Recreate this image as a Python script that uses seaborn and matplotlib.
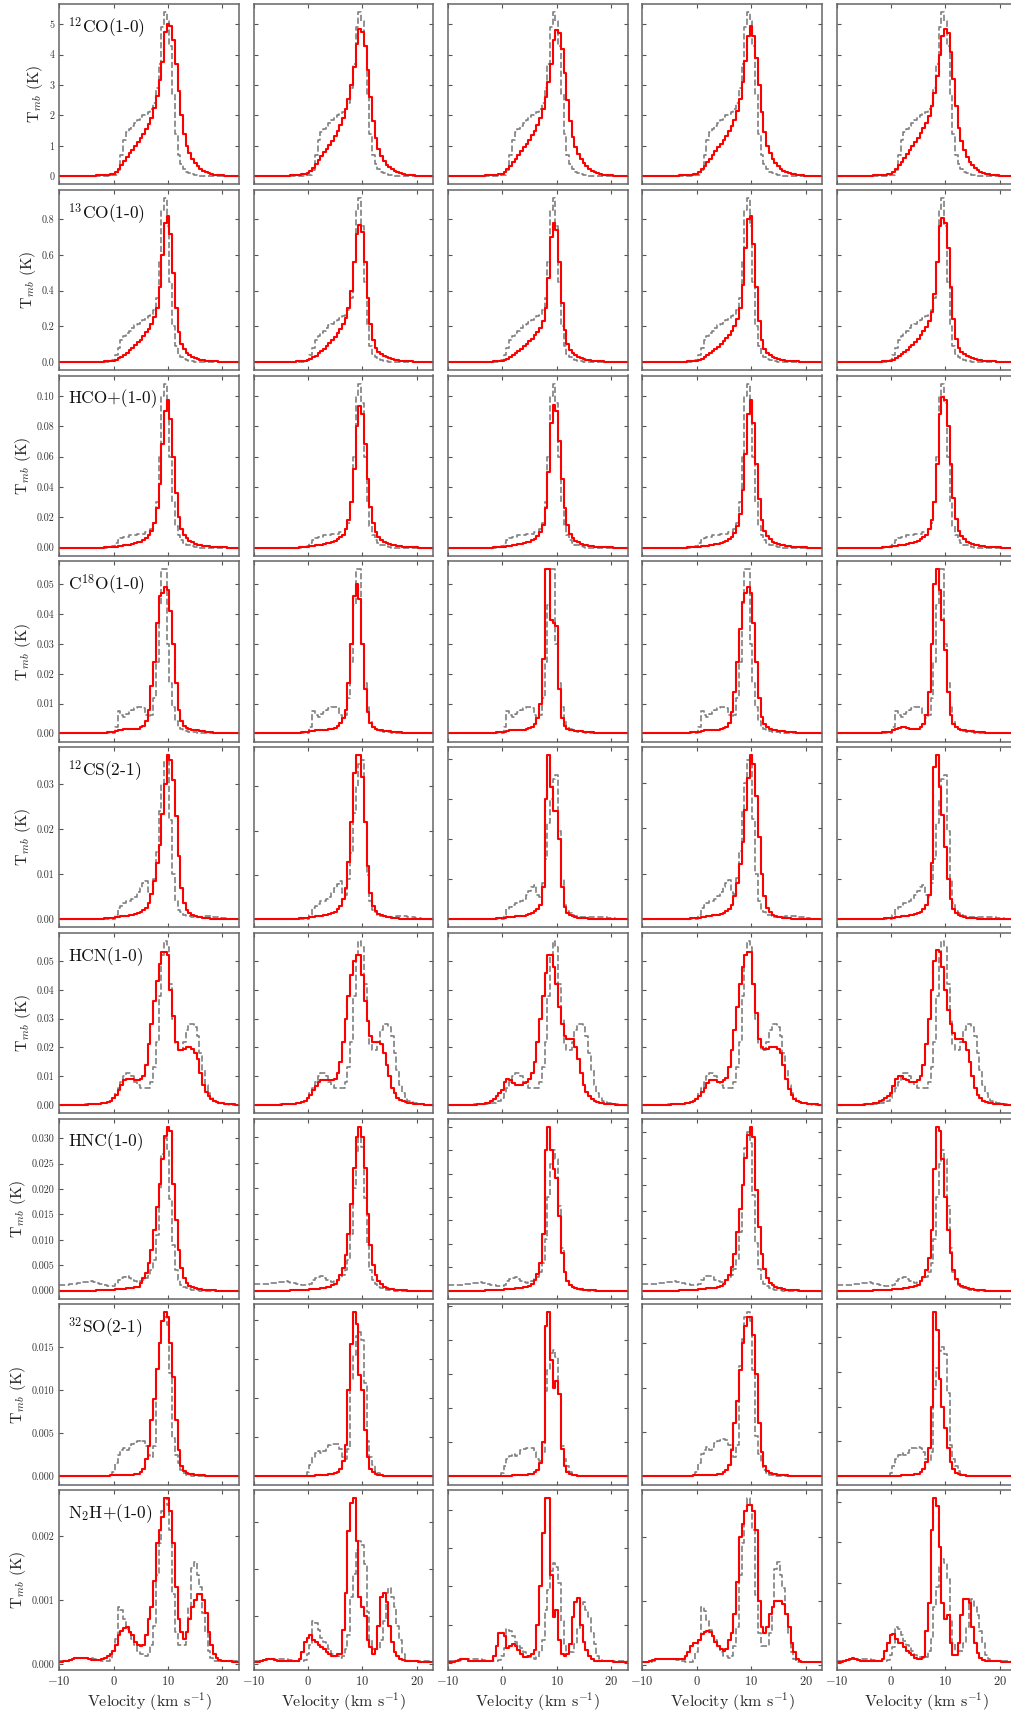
import numpy as np
import matplotlib
matplotlib.use("Agg")
import matplotlib.pyplot as plt
from matplotlib.ticker import MultipleLocator, FormatStrFormatter, FixedLocator
import seaborn as sns

# ---------------- data ----------------
# velocity channels (km/s), 0.5 km/s wide
velocity = np.arange(-10.0, 23.01, 0.5)

# Row 1: 12CO(1-0), values in K
co12_obs = [0,0,0,0,0,0,0,0,0,0,0,0,0,0,0,0,0,0,0,0,
            0.02,0.05,0.2,0.7,1.2,1.45,1.55,1.65,1.75,1.85,1.95,2.0,2.05,2.1,2.2,2.4,2.9,3.7,4.9,5.4,
            5.1,4.3,2.7,1.4,0.7,0.4,0.25,0.15,0.1,0.06,0.04,0.02,0.01,0,0,0,0,0,0,0,
            0,0,0,0,0,0,0]
co12_m1 = [0,0,0,0,0,0,0,0,0,0,0,0,0.01,0.01,0.02,0.02,0.03,0.04,0.05,0.06,
           0.08,0.15,0.25,0.38,0.5,0.62,0.75,0.87,1.0,1.12,1.25,1.4,1.55,1.72,1.92,2.25,2.65,3.15,3.75,4.75,
           5.0,4.95,4.5,3.7,2.8,2.0,1.4,1.0,0.75,0.55,0.42,0.32,0.24,0.18,0.13,0.1,0.07,0.05,0.04,0.03,
           0.02,0.01,0.01,0.01,0,0,0]
co12_m2 = [0,0,0,0,0,0,0,0,0,0,0,0,0.01,0.01,0.02,0.03,0.04,0.05,0.06,0.08,
           0.1,0.17,0.27,0.4,0.52,0.65,0.78,0.9,1.03,1.17,1.32,1.5,1.7,1.92,2.2,2.55,3.0,3.6,4.35,4.85,
           4.75,4.3,3.5,2.6,1.8,1.25,0.9,0.65,0.5,0.38,0.3,0.23,0.17,0.13,0.1,0.07,0.05,0.04,0.03,0.02,
           0.01,0.01,0,0,0,0,0]
co12_m3 = [0,0,0,0,0,0,0,0,0,0,0,0,0.01,0.01,0.02,0.02,0.03,0.04,0.05,0.06,
           0.08,0.14,0.22,0.33,0.45,0.57,0.7,0.82,0.95,1.07,1.2,1.35,1.5,1.68,1.9,2.2,2.6,3.1,3.7,4.5,
           4.8,4.7,4.2,3.4,2.5,1.8,1.3,0.95,0.72,0.55,0.42,0.32,0.24,0.18,0.13,0.1,0.07,0.05,0.04,0.03,
           0.02,0.01,0.01,0,0,0,0]
co12_m4 = [0,0,0,0,0,0,0,0,0,0,0,0,0.01,0.01,0.02,0.02,0.03,0.04,0.05,0.06,
           0.07,0.13,0.22,0.33,0.45,0.57,0.7,0.82,0.95,1.07,1.2,1.33,1.48,1.65,1.85,2.15,2.55,3.1,3.8,4.6,
           4.95,4.6,3.9,3.0,2.1,1.45,1.0,0.75,0.55,0.42,0.32,0.24,0.18,0.14,0.1,0.08,0.06,0.04,0.03,0.02,
           0.01,0.01,0,0,0,0,0]
co12_m5 = [0,0,0,0,0,0,0,0,0,0,0,0,0.01,0.01,0.02,0.02,0.03,0.04,0.05,0.06,
           0.08,0.14,0.23,0.35,0.47,0.6,0.73,0.86,1.0,1.13,1.27,1.42,1.58,1.76,1.98,2.3,2.75,3.3,4.0,4.6,
           4.85,4.7,4.1,3.2,2.3,1.6,1.15,0.85,0.62,0.47,0.36,0.27,0.2,0.15,0.11,0.08,0.06,0.04,0.03,0.02,
           0.01,0.01,0,0,0,0,0]

# Row 2: 13CO(1-0), values in mK
co13_obs_mK = [0,0,0,0,0,0,0,0,0,0,0,0,0,0,0,0,0,0,0,0,
               10,40,80,120,145,160,175,190,205,215,225,235,245,255,265,290,360,560,850,920,
               760,450,200,90,45,25,15,10,5,3,0,0,0,0,0,0,0,0,0,0,
               0,0,0,0,0,0,0]
co13_m1_mK = [0,0,0,0,0,0,0,0,0,0,0,0,0,0,0,0,1,2,3,4,
              5,12,20,30,40,52,65,80,95,110,125,145,165,185,210,250,300,420,600,780,
              820,720,500,300,170,100,70,50,38,30,22,17,12,9,7,5,4,3,2,1,
              1,0,0,0,0,0,0]
co13_m2_mK = [0,0,0,0,0,0,0,0,0,0,0,0,0,0,0,1,2,3,5,7,
              9,16,25,35,47,60,74,90,106,123,142,163,186,212,245,300,400,560,720,770,
              730,560,360,210,125,80,58,43,33,26,20,15,11,8,6,4,3,2,2,1,
              1,0,0,0,0,0,0]
co13_m3_mK = [0,0,0,0,0,0,0,0,0,0,0,0,0,0,0,0,1,2,3,4,
              5,11,18,27,37,48,60,73,87,100,115,130,148,168,192,230,300,470,700,780,
              740,560,330,180,100,65,48,36,28,22,17,13,10,7,5,4,3,2,1,1,
              0,0,0,0,0,0,0]
co13_m4_mK = [0,0,0,0,0,0,0,0,0,0,0,0,0,0,0,0,1,2,3,4,
              4,10,17,26,36,47,59,72,86,100,115,132,150,172,200,240,300,430,640,800,
              820,660,420,230,120,70,48,36,28,22,17,13,10,7,5,4,3,2,1,1,
              0,0,0,0,0,0,0]
co13_m5_mK = [0,0,0,0,0,0,0,0,0,0,0,0,0,0,0,0,1,2,3,5,
              6,13,21,31,42,54,67,82,97,113,130,150,172,198,230,280,380,560,760,810,
              780,640,420,240,130,80,58,44,34,27,21,16,12,9,7,5,4,3,2,1,
              1,0,0,0,0,0,0]

# Row 3: HCO+(1-0), mK
hco_obs_mK = [0,0,0,0,0,0,0,0,0,0,0,0,0,0,0,0,0,0,0.3,0.6,
              1,3,5,6,7,7,8,8,8,9,9,9,10,10,12,16,30,60,100,108,
              95,60,30,14,8,5,3,2,1.5,1,0.5,0,0,0,0,0,0,0,0,0,
              0,0,0,0,0,0,0]
hco_m1_mK = [0,0,0,0,0,0,0,0,0,0,0,0,0,0,0,0,0,0.2,0.3,0.4,
             0.5,0.7,1,1.2,1.5,1.8,2,2.5,3,3.5,4,5,6,8,11,16,26,42,68,90,
             97,85,60,36,20,12,8,6,4.5,3.5,2.5,2,1.5,1.2,1,0.8,0.5,0.4,0.3,0.2,
             0.1,0.1,0,0,0,0,0]
hco_m2_mK = [0,0,0,0,0,0,0,0,0,0,0,0,0,0,0,0,0,0.2,0.3,0.4,
             0.6,0.8,1.1,1.4,1.7,2,2.4,2.8,3.3,3.9,4.6,5.5,6.8,8.5,12,18,30,52,80,93,
             88,68,45,27,16,10,7,5,4,3,2.3,1.8,1.4,1.1,0.8,0.6,0.4,0.3,0.2,0.1,
             0.1,0,0,0,0,0,0]
hco_m3_mK = [0,0,0,0,0,0,0,0,0,0,0,0,0,0,0,0,0,0.2,0.3,0.4,
             0.5,0.7,0.9,1.2,1.5,1.8,2.1,2.5,3,3.5,4,4.8,5.8,7.5,10,15,26,50,82,94,
             90,70,45,26,15,9,6,4.5,3.5,2.7,2,1.5,1.2,0.9,0.7,0.5,0.4,0.3,0.2,0.1,
             0.1,0,0,0,0,0,0]
hco_m4_mK = [0,0,0,0,0,0,0,0,0,0,0,0,0,0,0,0,0,0.2,0.3,0.3,
             0.4,0.6,0.8,1,1.3,1.6,1.9,2.3,2.7,3.2,3.7,4.5,5.5,7,9.5,14,22,38,62,88,
             97,82,55,32,18,11,7.5,5.5,4,3,2.3,1.8,1.4,1,0.8,0.6,0.4,0.3,0.2,0.1,
             0.1,0,0,0,0,0,0]
hco_m5_mK = [0,0,0,0,0,0,0,0,0,0,0,0,0,0,0,0,0,0.2,0.3,0.4,
             0.6,0.8,1.1,1.4,1.7,2,2.4,2.8,3.3,3.9,4.6,5.5,6.8,8.5,12,18,30,55,88,99,
             97,80,55,33,19,11,7.5,5.5,4,3,2.3,1.8,1.4,1,0.8,0.6,0.4,0.3,0.2,0.1,
             0.1,0,0,0,0,0,0]

# Row 4: C18O(1-0), mK
c18o_obs_mK = [0,0,0,0,0,0,0,0,0,0,0,0,0,0,0,0,0,0,0,0,
               0,2,7.5,6,5.5,6.5,7,8,8.5,9,9,8.5,6,5,6,12,24,43,55,55,
               30,17,9,4,2,1.5,1,0.8,0.5,0.4,0.3,0.2,0.1,0,0,0,0,0,0,0,
               0,0,0,0,0,0,0]
c18o_m1_mK = [0,0,0,0,0,0,0,0,0,0,0,0,0,0,0.1,0.15,0.2,0.25,0.3,0.4,
              0.5,0.7,1,1.2,1.3,1.3,1.3,1.3,1.4,1.6,2,2.5,4,8,16,24,37,46,47,49,
              48,41,30,17,8,4,2.5,1.8,1.3,1.1,1,1,0.9,0.8,0.6,0.5,0.3,0.2,0.1,0.05,
              0,0,0,0,0,0,0]
c18o_m2_mK = [0,0,0,0,0,0,0,0,0,0,0,0,0,0,0.1,0.15,0.2,0.25,0.3,0.4,
              0.5,0.7,0.9,1.1,1.2,1.2,1.2,1.2,1.3,1.5,1.9,2.5,3.5,5,8,17,30,46,50,45,
              30,15,7,3.5,2,1.5,1.2,1,0.9,0.8,0.7,0.6,0.5,0.4,0.3,0.2,0.1,0.1,0.05,0,
              0,0,0,0,0,0,0]
c18o_m3_mK = [0,0,0,0,0,0,0,0,0,0,0,0,0,0,0.1,0.15,0.2,0.25,0.3,0.4,
              0.4,0.6,0.8,1,1.1,1.1,1.1,1.1,1.2,1.4,1.7,2.2,3,5,10,25,55,55,38,37,
              36,15,5,2.5,1.6,1.2,1,0.9,0.8,0.7,0.6,0.5,0.4,0.3,0.2,0.1,0.1,0.05,0,0,
              0,0,0,0,0,0,0]
c18o_m4_mK = [0,0,0,0,0,0,0,0,0,0,0,0,0,0,0.1,0.15,0.2,0.25,0.3,0.35,
              0.4,0.6,0.8,1,1.1,1.1,1.1,1.1,1.2,1.4,1.7,2.2,3.5,7,14,24,35,44,47,49,
              47,37,24,12,5.5,3,2,1.5,1.2,1,0.9,0.8,0.7,0.6,0.5,0.4,0.3,0.2,0.1,0.05,
              0,0,0,0,0,0,0]
c18o_m5_mK = [0,0,0,0,0,0,0,0,0,0,0,0,0,0,0.1,0.15,0.2,0.3,0.4,0.5,
              0.6,1,1.5,1.8,2,2,1.8,1.5,1.3,1.3,1.5,2,3,6,14,30,50,55,48,38,
              28,14,6,3,2,1.5,1.2,1,0.9,0.8,0.7,0.6,0.5,0.4,0.3,0.2,0.1,0.1,0.05,0,
              0,0,0,0,0,0,0]

# Row 5: 12CS(2-1), mK
cs_obs_mK = [0,0,0,0,0,0,0,0,0,0,0,0,0,0,0,0,0,0,0,0,
             0,1,2.5,3,3.5,4,4,4.5,5,6,7,8,8.5,6,5.5,9,15,24,30,35,
             36,22,10,4,2,1.5,1,0.8,0.6,0.5,0.5,0.5,0.5,0.6,0.6,0.6,0.6,0.5,0.5,0.4,
             0.3,0.2,0.1,0.1,0,0,0]
cs_m1_mK = [0,0,0,0,0,0,0,0,0,0,0,0,0,0,0,0,0.1,0.15,0.2,0.25,
            0.3,0.4,0.5,0.6,0.7,0.8,0.9,1,1.1,1.3,1.5,2,2.5,3.5,5.5,8.5,12.5,16.5,23.5,30,
            36.5,35.5,31,23,14,7,3.5,2,1.3,0.9,0.7,0.5,0.4,0.3,0.2,0.15,0.1,0.1,0.05,0,
            0,0,0,0,0,0,0]
cs_m2_mK = [0,0,0,0,0,0,0,0,0,0,0,0,0,0,0,0,0.1,0.15,0.2,0.25,
            0.3,0.4,0.5,0.6,0.7,0.8,0.9,1,1.2,1.4,1.7,2.2,3,4.5,7,13,22,33,37,37,
            32,22,12,6,3,1.8,1.2,0.9,0.7,0.5,0.4,0.3,0.2,0.2,0.1,0.1,0.05,0,0,0,
            0,0,0,0,0,0,0]
cs_m3_mK = [0,0,0,0,0,0,0,0,0,0,0,0,0,0,0,0,0.1,0.15,0.2,0.25,
            0.3,0.4,0.5,0.6,0.6,0.7,0.7,0.8,0.9,1,1.2,1.5,2,2.5,3.5,8,30,41,33,27,
            27,20,8,3,1.5,1,0.7,0.5,0.4,0.3,0.2,0.2,0.1,0.1,0.05,0,0,0,0,0,
            0,0,0,0,0,0,0]
cs_m4_mK = [0,0,0,0,0,0,0,0,0,0,0,0,0,0,0,0,0.1,0.1,0.15,0.2,
            0.2,0.3,0.4,0.5,0.6,0.7,0.8,0.9,1,1.2,1.4,1.8,2.3,3.2,5,8,12,17,24,31,
            36,34,27,18,10,5,2.5,1.5,1,0.7,0.5,0.4,0.3,0.2,0.15,0.1,0.1,0.05,0,0,
            0,0,0,0,0,0,0]
cs_m5_mK = [0,0,0,0,0,0,0,0,0,0,0,0,0,0,0,0,0.1,0.15,0.2,0.25,
            0.3,0.4,0.5,0.6,0.7,0.8,0.9,1,1.1,1.3,1.5,1.9,2.5,3.5,6,14,38,41,33,26,
            18,10,5,2.5,1.5,1,0.7,0.5,0.4,0.3,0.2,0.2,0.1,0.1,0.05,0,0,0,0,0,
            0,0,0,0,0,0,0]

# Row 6: HCN(1-0), mK
hcn_obs_mK = [0,0,0,0,0,0,0.1,0.1,0.1,0.1,0.2,0.2,0.2,0.3,0.3,0.4,0.5,0.8,1,1.5,
              2.5,4,6,8,10,11,11,10,8,7,6,6,6,6,8,13,22,38,52,57,
              55,42,30,21,19,19,22,26,28,28,27,24,18,12,7,4,2.5,1.5,1,0.7,
              0.5,0.3,0.2,0.1,0.1,0,0]
hcn_m1_mK = [0,0,0,0,0,0,0.1,0.1,0.1,0.1,0.1,0.2,0.2,0.2,0.3,0.4,0.6,0.8,1,1.5,
             2.5,3.5,5,7,8.5,9,9,9,8.5,8.5,9,10,14,21,28,36,43,49,53,53,
             52,40,31,22,19,19,19.5,20,20,19.5,18,16,11,7,4.5,3,2,1.3,1,0.7,
             0.5,0.4,0.3,0.2,0.2,0.1,0.1]
hcn_m2_mK = [0,0,0,0,0,0,0.1,0.1,0.1,0.1,0.1,0.2,0.2,0.2,0.3,0.4,0.6,0.8,1,1.5,
             2.5,3.5,5,6.5,8,8.5,8.5,8.5,8.5,8.5,9,11,15,22,30,38,45,50,52,52,
             45,36,29,24,22,22,22,21,18,14,10,6,4,2.5,1.7,1.2,0.9,0.7,0.5,0.4,
             0.3,0.2,0.2,0.1,0.1,0,0]
hcn_m3_mK = [0,0,0,0,0,0,0.1,0.1,0.1,0.1,0.1,0.2,0.2,0.3,0.5,0.8,1.3,2,3,4,
             5,8,9,8.5,7.5,7,7,7,7.5,8,9,11,15,22,30,38,46,52,52,48,
             42,34,28,24,23,23,23,20,16,11,7,4.5,3,2,1.4,1,0.8,0.6,0.4,0.3,
             0.2,0.2,0.1,0.1,0,0,0]
hcn_m4_mK = [0,0,0,0,0,0,0.1,0.1,0.1,0.1,0.1,0.2,0.2,0.2,0.3,0.4,0.6,0.8,1,1.5,
             2,3,4.5,6,7.5,8.5,8.5,8.5,8,8,8.5,9.5,13,19,26,34,42,48,52,53,
             53,42,32,23,20,19.5,19.5,20,20,20,19.5,18,14,9,5.5,3.5,2.2,1.5,1,0.7,
             0.5,0.4,0.3,0.2,0.2,0.1,0.1]
hcn_m5_mK = [0,0,0,0,0,0,0.1,0.1,0.1,0.1,0.1,0.2,0.2,0.3,0.5,0.8,1.2,1.8,2.5,3,
             4,6.5,9,10,10,9,8.5,8,8,8,8.5,10,14,21,30,40,50,54,53,48,
             40,33,28,25,23,23,23,22,19,15,10,6,3.5,2.3,1.5,1,0.7,0.5,0.4,0.3,
             0.2,0.2,0.1,0.1,0,0,0]

# Row 7: HNC(1-0), mK
hnc_obs_mK = [1.2,1.2,1.2,1.2,1.3,1.3,1.4,1.5,1.5,1.6,1.6,1.7,1.8,1.6,1.5,1.4,1.3,1.2,1,1,
              1,1.3,2,2.5,2.7,2.8,2.5,2,1.8,1.7,1.8,2,2.5,3,4,6,11,20,27,30,
              28,18,9,4,2,1.2,0.8,0.5,0.3,0.2,0.1,0.1,0,0,0,0,0,0,0,0,
              0,0,0,0,0,0,0]
hnc_m1_mK = [0,0,0,0,0,0,0,0,0,0,0,0,0,0,0.05,0.05,0.1,0.1,0.15,0.15,
             0.2,0.25,0.3,0.35,0.4,0.45,0.5,0.55,0.65,0.8,1.5,2.5,3.5,5.5,8,12,16.5,21,26,30.5,
             32.3,31.5,21,14,8,4.5,2.5,1.5,1,0.7,0.5,0.4,0.3,0.2,0.15,0.1,0.1,0.05,0,0,
             0,0,0,0,0,0,0]
hnc_m2_mK = [0,0,0,0,0,0,0,0,0,0,0,0,0,0,0.05,0.05,0.1,0.1,0.15,0.15,
             0.2,0.25,0.3,0.35,0.4,0.5,0.6,0.7,0.8,1,1.3,2,3,4.5,7,11,17,24,30,32,
             30,24,15,9,5,3,1.8,1.2,0.8,0.6,0.4,0.3,0.2,0.15,0.1,0.1,0.05,0,0,0,
             0,0,0,0,0,0,0]
hnc_m3_mK = [0,0,0,0,0,0,0,0,0,0,0,0,0,0,0.05,0.05,0.1,0.1,0.15,0.15,
             0.2,0.25,0.3,0.35,0.4,0.45,0.5,0.6,0.7,0.8,1,1.5,2.2,3.5,6,12,30,35,30,26,
             24,16,8,4,2,1.2,0.8,0.5,0.4,0.3,0.2,0.15,0.1,0.1,0.05,0,0,0,0,0,
             0,0,0,0,0,0,0]
hnc_m4_mK = [0,0,0,0,0,0,0,0,0,0,0,0,0,0,0.05,0.05,0.1,0.1,0.15,0.15,
             0.2,0.25,0.3,0.35,0.4,0.45,0.5,0.55,0.65,0.8,1.2,2,3,4.5,7,11,15.5,20,25,29.5,
             31,29,19,12,7,4,2.3,1.4,1,0.7,0.5,0.4,0.3,0.2,0.15,0.1,0.1,0.05,0,0,
             0,0,0,0,0,0,0]
hnc_m5_mK = [0,0,0,0,0,0,0,0,0,0,0,0,0,0,0.05,0.05,0.1,0.1,0.15,0.15,
             0.2,0.25,0.3,0.35,0.4,0.5,0.6,0.7,0.8,1,1.3,2,3,4.5,7,13,26,35,34,28,
             20,13,8,4.5,2.5,1.5,1,0.7,0.5,0.4,0.3,0.2,0.15,0.1,0.05,0,0,0,0,0,
             0,0,0,0,0,0,0]

# Row 8: 32SO(2-1), mK
so_obs_mK = [0,0,0,0,0,0,0,0,0,0,0,0,0,0,0,0,0,0,0,0,
             0.5,1.5,2.5,3,3.3,3,3.3,3.8,4,4.1,4.2,4.1,3.5,2.5,2.2,3.5,12.5,15.5,18,18.5,
             17.5,12,4.5,2.5,1.5,0.7,0.4,0.2,0.1,0,0,0,0,0,0,0,0,0,0,0,
             0,0,0,0,0,0,0]
so_m1_mK = [0,0,0,0,0,0,0,0,0,0,0.05,0.05,0.05,0.05,0.05,0.05,0.05,0.08,0.08,0.1,
            0.1,0.1,0.1,0.12,0.14,0.16,0.18,0.2,0.25,0.3,0.5,0.8,2,3.5,6.5,9,12.5,15.5,18,19,
            18.5,15.5,11.5,6.5,3,1.2,0.6,0.4,0.3,0.25,0.2,0.15,0.1,0.1,0.05,0,0,0,0,0,
            0,0,0,0,0,0,0]
so_m2_mK = [0,0,0,0,0,0,0,0,0,0,0.05,0.05,0.05,0.05,0.05,0.05,0.05,0.08,0.08,0.1,
            0.1,0.1,0.1,0.12,0.14,0.16,0.18,0.2,0.25,0.3,0.4,0.6,1,2,4,11,17,21,19.5,13,
            11,6,2.5,1,0.5,0.3,0.2,0.15,0.1,0.1,0.05,0,0,0,0,0,0,0,0,0,
            0,0,0,0,0,0,0]
so_m3_mK = [0,0,0,0,0,0,0,0,0,0,0.05,0.05,0.05,0.05,0.05,0.05,0.05,0.08,0.08,0.1,
            0.1,0.1,0.1,0.12,0.14,0.16,0.18,0.2,0.22,0.25,0.3,0.4,0.6,1,2,5,22,24,17,13,
            14,12,4,1.5,0.6,0.3,0.2,0.15,0.1,0.1,0.05,0,0,0,0,0,0,0,0,0,
            0,0,0,0,0,0,0]
so_m4_mK = [0,0,0,0,0,0,0,0,0,0,0.05,0.05,0.05,0.05,0.05,0.05,0.05,0.08,0.08,0.1,
            0.1,0.1,0.1,0.12,0.14,0.16,0.18,0.2,0.25,0.3,0.45,0.7,1.3,3,6,8.5,12,15,17,18,
            18,16,11.5,6,2.8,1.2,0.6,0.4,0.3,0.25,0.2,0.15,0.1,0.1,0.05,0,0,0,0,0,
            0,0,0,0,0,0,0]
so_m5_mK = [0,0,0,0,0,0,0,0,0,0,0.05,0.05,0.05,0.05,0.05,0.05,0.05,0.08,0.08,0.1,
            0.1,0.1,0.1,0.12,0.14,0.16,0.18,0.2,0.25,0.3,0.4,0.6,1,2,4,10,23.5,21,14,10,
            7,4,2,1,0.5,0.3,0.2,0.15,0.1,0.1,0.05,0,0,0,0,0,0,0,0,0,
            0,0,0,0,0,0,0]

# Row 9: N2H+(1-0), mK
n2h_obs_mK = [0.05,0.05,0.05,0.05,0.07,0.08,0.1,0.1,0.1,0.1,0.1,0.1,0.1,0.08,0.07,0.06,0.05,0.05,0.05,0.08,
              0.2,0.4,0.9,0.85,0.7,0.55,0.45,0.4,0.3,0.2,0.15,0.15,0.12,0.15,0.3,0.6,1.4,1.9,2.4,2.6,
              2.5,2.1,1.1,0.5,0.3,0.3,0.3,0.5,0.9,1.5,1.6,1.4,1.2,0.8,0.5,0.2,0.1,0.05,0.05,0.05,
              0.05,0.05,0.05,0.05,0.05,0.05,0.05]
n2h_m1_mK = [0.03,0.03,0.04,0.05,0.06,0.08,0.09,0.1,0.1,0.1,0.09,0.08,0.07,0.07,0.07,0.07,0.08,0.1,0.12,0.15,
             0.2,0.3,0.45,0.52,0.57,0.58,0.5,0.45,0.35,0.3,0.28,0.3,0.45,0.7,0.9,1.3,1.9,2.1,2.3,2.6,
             2.6,2.4,1.9,1.2,0.7,0.5,0.4,0.5,0.7,0.9,1.0,1.1,1.1,1.0,0.8,0.5,0.3,0.15,0.1,0.07,
             0.05,0.05,0.04,0.04,0.03,0.03,0.03]
n2h_m2_mK = [0.03,0.03,0.04,0.05,0.07,0.09,0.1,0.1,0.08,0.06,0.05,0.05,0.05,0.05,0.05,0.05,0.06,0.1,0.25,0.45,
             0.55,0.6,0.5,0.45,0.4,0.35,0.3,0.25,0.2,0.15,0.15,0.2,0.2,0.7,1.5,2.8,3.4,3.5,2.6,1.4,
             1.2,1.0,0.5,0.35,0.2,0.3,0.8,1.4,1.5,1.3,0.8,0.45,0.25,0.15,0.1,0.08,0.06,0.05,0.05,0.05,
             0.05,0.04,0.04,0.03,0.03,0.03,0.03]
n2h_m3_mK = [0.03,0.03,0.04,0.05,0.08,0.1,0.12,0.1,0.07,0.05,0.05,0.05,0.05,0.05,0.05,0.05,0.06,0.2,0.45,0.8,
             0.8,0.7,0.4,0.45,0.5,0.45,0.35,0.25,0.15,0.15,0.2,0.25,0.35,1.0,2.0,3.4,4.3,4.3,2.3,1.2,
             1.4,0.6,0.25,0.2,0.25,0.5,1.2,1.6,1.7,1.0,0.55,0.35,0.2,0.1,0.06,0.05,0.05,0.05,0.05,0.05,
             0.05,0.04,0.04,0.03,0.03,0.03,0.03]
n2h_m4_mK = [0.05,0.05,0.05,0.06,0.08,0.1,0.1,0.1,0.1,0.1,0.1,0.1,0.1,0.1,0.1,0.1,0.15,0.2,0.3,0.35,
             0.35,0.4,0.48,0.52,0.54,0.52,0.45,0.37,0.3,0.25,0.22,0.25,0.4,0.5,0.8,1.3,2.0,2.2,2.4,2.5,
             2.5,2.4,2.1,1.0,0.6,0.5,0.6,0.8,0.9,1.0,1.0,1.0,0.95,0.8,0.6,0.35,0.2,0.1,0.07,0.05,
             0.05,0.05,0.05,0.05,0.05,0.05,0.05]
n2h_m5_mK = [0.03,0.03,0.04,0.05,0.08,0.1,0.12,0.1,0.07,0.05,0.05,0.05,0.05,0.05,0.05,0.05,0.06,0.1,0.3,0.5,
             0.7,0.73,0.6,0.5,0.5,0.4,0.3,0.25,0.2,0.12,0.1,0.1,0.15,0.8,1.5,3.3,4.1,3.9,2.9,1.5,
             1.1,1.2,0.5,0.2,0.2,0.5,1.2,1.6,1.6,1.5,0.9,0.5,0.25,0.12,0.08,0.05,0.05,0.05,0.05,0.05,
             0.05,0.04,0.04,0.03,0.03,0.03,0.03]

line_labels = [r"$^{12}$CO(1-0)", r"$^{13}$CO(1-0)", "HCO+(1-0)", r"C$^{18}$O(1-0)",
               r"$^{12}$CS(2-1)", "HCN(1-0)", "HNC(1-0)", r"$^{32}$SO(2-1)", r"N$_2$H+(1-0)"]
x_ticks = [-10, 0, 10, 20]

# ---------------- assemble ----------------
K = 1.0
mK = 1e-3
rows = [
    (co12_obs, [co12_m1, co12_m2, co12_m3, co12_m4, co12_m5], K),
    (co13_obs_mK, [co13_m1_mK, co13_m2_mK, co13_m3_mK, co13_m4_mK, co13_m5_mK], mK),
    (hco_obs_mK, [hco_m1_mK, hco_m2_mK, hco_m3_mK, hco_m4_mK, hco_m5_mK], mK),
    (c18o_obs_mK, [c18o_m1_mK, c18o_m2_mK, c18o_m3_mK, c18o_m4_mK, c18o_m5_mK], mK),
    (cs_obs_mK, [cs_m1_mK, cs_m2_mK, cs_m3_mK, cs_m4_mK, cs_m5_mK], mK),
    (hcn_obs_mK, [hcn_m1_mK, hcn_m2_mK, hcn_m3_mK, hcn_m4_mK, hcn_m5_mK], mK),
    (hnc_obs_mK, [hnc_m1_mK, hnc_m2_mK, hnc_m3_mK, hnc_m4_mK, hnc_m5_mK], mK),
    (so_obs_mK, [so_m1_mK, so_m2_mK, so_m3_mK, so_m4_mK, so_m5_mK], mK),
    (n2h_obs_mK, [n2h_m1_mK, n2h_m2_mK, n2h_m3_mK, n2h_m4_mK, n2h_m5_mK], mK),
]
for r, (o, ms, u) in enumerate(rows):
    assert len(o) == len(velocity), (r, "obs", len(o))
    for c, m in enumerate(ms):
        assert len(m) == len(velocity), (r, c, len(m))

y_steps = [1, 0.2, 0.02, 0.01, 0.01, 0.01, 0.005, 0.005, 0.001]
y_fmts = ["%d", "%.1f", "%.2f", "%.2f", "%.2f", "%.2f", "%.3f", "%.3f", "%.3f"]

# ---------------- style ----------------
sns.set_theme(style="ticks", rc={
    "xtick.direction": "in", "ytick.direction": "in",
    "xtick.top": True, "ytick.right": True,
    "axes.edgecolor": "#666666", "axes.linewidth": 1.1,
    "xtick.color": "#555555", "ytick.color": "#555555",
    "xtick.labelcolor": "#333333", "ytick.labelcolor": "#333333",
    "xtick.major.size": 3, "ytick.major.size": 3,
    "xtick.major.width": 0.8, "ytick.major.width": 0.8,
    "xtick.labelsize": 9, "ytick.labelsize": 7.2,
})
plt.rcParams["font.family"] = "serif"
plt.rcParams["font.serif"] = ["cmr10", "DejaVu Serif"]
plt.rcParams["mathtext.fontset"] = "cm"
plt.rcParams["axes.formatter.use_mathtext"] = True
plt.rcParams["axes.unicode_minus"] = True

W, H = 1011, 1711
fig = plt.figure(figsize=(W / 100, H / 100), dpi=100)

left0, col_step, ax_w = 59.3, 194.35, 179.5
top0, row_step, ax_h = 4.0, 185.75, 180.3

for r, (obs, models, unit) in enumerate(rows):
    obs_arr = np.asarray(obs, dtype=float) * unit
    for c, mod in enumerate(models):
        left = left0 + c * col_step
        top = top0 + r * row_step
        ax = fig.add_axes([left / W, 1 - (top + ax_h) / H, ax_w / W, ax_h / H])
        sns.lineplot(x=velocity, y=obs_arr, ax=ax, color="#7f7f7f", linewidth=1.2,
                     linestyle="--", drawstyle="steps-mid", estimator=None, legend=False)
        sns.lineplot(x=velocity, y=np.asarray(mod, dtype=float) * unit, ax=ax, color="#ff0000",
                     linewidth=1.5, drawstyle="steps-mid", estimator=None, legend=False)
        ax.set_xlim(-10, 23)
        ax.xaxis.set_major_locator(FixedLocator(x_ticks))
        ax.yaxis.set_major_locator(MultipleLocator(y_steps[r]))
        ax.yaxis.set_major_formatter(FormatStrFormatter(y_fmts[r]))
        ax.set_xlabel("")
        ax.set_ylabel("")
        if c == 0:
            ax.set_ylabel(r"T$_{mb}$ (K)", fontsize=11.5, labelpad=3)
            ax.text(0.05, 0.87, line_labels[r], transform=ax.transAxes,
                    fontsize=12.5, va="center", ha="left", color="#111111")
        else:
            ax.tick_params(axis="y", labelleft=False)
        if r == len(rows) - 1:
            ax.set_xlabel(r"Velocity (km s$^{-1}$)", fontsize=11.5, labelpad=2)
        else:
            ax.tick_params(axis="x", labelbottom=False)
        ax.tick_params(axis="both", which="both", top=True, right=True)

fig.savefig("out.png", dpi=100)
